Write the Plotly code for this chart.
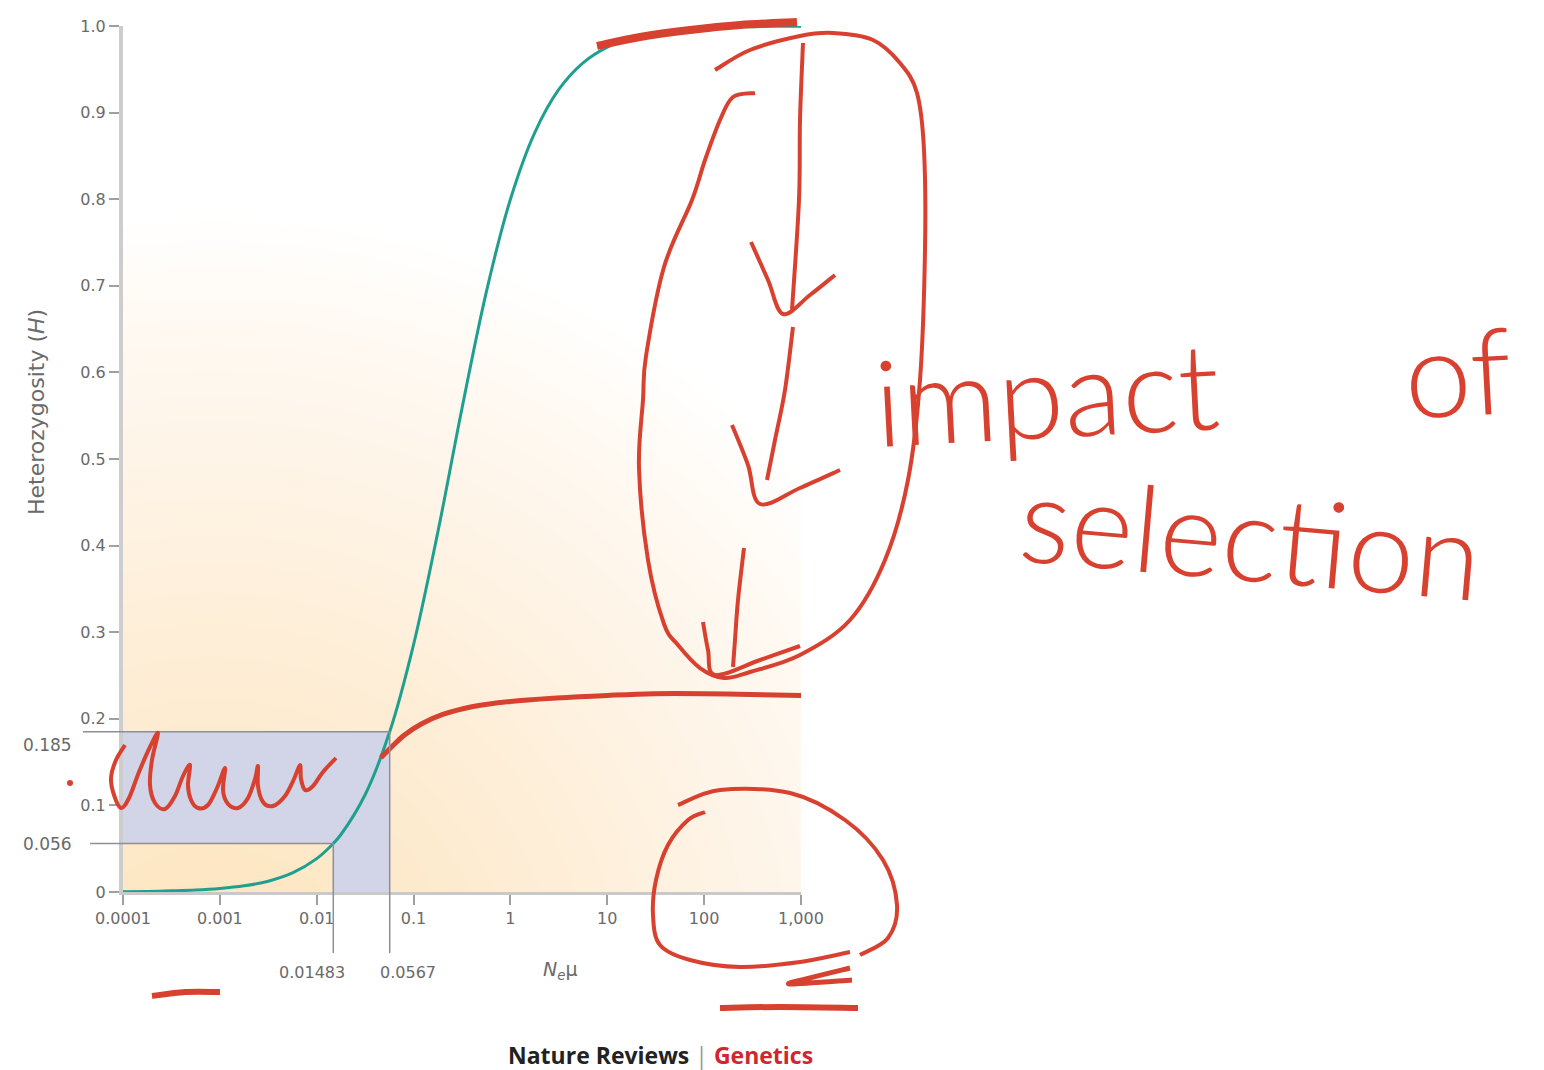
import math
import numpy as np
import plotly.graph_objects as go

# Expected heterozygosity under neutrality as a function of N_e*mu
nmu = [0.0001, 0.000178, 0.000316, 0.000562, 0.001, 0.00178, 0.00316, 0.00562,
       0.01, 0.01483, 0.0178, 0.0316, 0.0567, 0.1, 0.178, 0.316, 0.562, 1,
       1.78, 3.16, 5.62, 10, 17.8, 31.6, 56.2, 100, 178, 316, 562, 1000]
het = [0.0004, 0.0007, 0.0013, 0.0022, 0.004, 0.0071, 0.0125, 0.022,
       0.0385, 0.056, 0.0664, 0.1123, 0.185, 0.2857, 0.4156, 0.5584, 0.6922, 0.8,
       0.8767, 0.9267, 0.9574, 0.9756, 0.9861, 0.9922, 0.9956, 0.9975, 0.9986, 0.9992, 0.9996, 0.9998]

# Hand-drawn plateau: heterozygosity once selection acts
sel_nmu = [0.046, 0.06, 0.08, 0.12, 0.2, 0.4, 1, 3, 10, 30, 100, 300, 1000]
sel_het = [0.155, 0.168, 0.181, 0.194, 0.205, 0.214, 0.220, 0.224, 0.227, 0.229, 0.229, 0.228, 0.227]

# Observed heterozygosity window and matching N_e*mu values
h_marks = [0.056, 0.185]
h_mark_labels = ["0.056", "0.185"]
nmu_marks = [0.01483, 0.0567]
nmu_mark_labels = ["0.01483", "0.0567"]

x_tickvals = [0.0001, 0.001, 0.01, 0.1, 1, 10, 100, 1000]
x_ticktext = ["0.0001", "0.001", "0.01", "0.1", "1", "10", "100", "1,000"]
y_tickvals = [0, 0.1, 0.2, 0.3, 0.4, 0.5, 0.6, 0.7, 0.8, 0.9, 1.0]
y_ticktext = ["0", "0.1", "0.2", "0.3", "0.4", "0.5", "0.6", "0.7", "0.8", "0.9", "1.0"]

# Page geometry
W, H = 1544, 1070
L, R, T, B = 123, 743, 26, 178
PW, PH = W - L - R, H - T - B
XR = [-4, 3]
YR = [0, 1]

INK = "#d8412f"
TEAL = "#1f9f8f"
GUIDE = "#8e8e96"
TXT = "#6a6a6a"
FONT = "DejaVu Sans"
HAND = dict(size=120, color=INK, family="Lato", weight=300)


def px_x(px):
    return (px - L) / PW


def px_y(py):
    return (H - B - py) / PH


def xpaper(v):
    return (math.log10(v) - XR[0]) / (XR[1] - XR[0])


def ypaper(v):
    return (v - YR[0]) / (YR[1] - YR[0])


def smooth_path(pts):
    """Catmull-Rom stroke through page points, expressed in paper units."""
    P = [(px_x(x), px_y(y)) for x, y in pts]
    d = f"M{P[0][0]:.5f},{P[0][1]:.5f}"
    for i in range(len(P) - 1):
        p0 = P[i - 1] if i > 0 else P[i]
        p1, p2 = P[i], P[i + 1]
        p3 = P[i + 2] if i + 2 < len(P) else P[i + 1]
        c1 = (p1[0] + (p2[0] - p0[0]) / 6, p1[1] + (p2[1] - p0[1]) / 6)
        c2 = (p2[0] - (p3[0] - p1[0]) / 6, p2[1] - (p3[1] - p1[1]) / 6)
        d += (f" C{c1[0]:.5f},{c1[1]:.5f} {c2[0]:.5f},{c2[1]:.5f} "
              f"{p2[0]:.5f},{p2[1]:.5f}")
    return d


def label(x, y, text, size=17, **kw):
    base = dict(x=x, y=y, xref="paper", yref="paper", text=text, showarrow=False,
                xanchor="center", yanchor="middle",
                font=dict(size=size, color=TXT, family=FONT))
    base.update(kw)
    return base


fig = go.Figure()

# Soft warm background wash radiating from the lower left of the panel
gx = np.linspace(XR[0], XR[1], 71)
gy = np.linspace(YR[0], YR[1], 51)
GX, GY = np.meshgrid((gx - XR[0]) / (XR[1] - XR[0]) * PW, gy * PH)
wash = np.clip(np.hypot(GX - 90, GY + 110) / 790, 0, 1)
fig.add_trace(go.Heatmap(
    x=10 ** gx, y=gy, z=wash, zmin=0, zmax=1, zsmooth="best", showscale=False,
    hoverinfo="skip",
    colorscale=[[0, "#fde3b9"], [0.25, "#fde9ca"], [0.5, "#feefda"],
                [0.72, "#fef5e9"], [0.88, "#fffaf4"], [1, "#ffffff"]],
))

# Shaded window between the two heterozygosity / N_e*mu readings
fig.add_trace(go.Scatter(
    x=[x_tickvals[0], nmu_marks[0], nmu_marks[0], nmu_marks[1], nmu_marks[1], x_tickvals[0]],
    y=[h_marks[0], h_marks[0], YR[0], YR[0], h_marks[1], h_marks[1]],
    fill="toself", fillcolor="#d2d5e8", line=dict(width=0), mode="lines",
    hoverinfo="skip",
))

# Neutral curve
fig.add_trace(go.Scatter(
    x=nmu, y=het, mode="lines", line=dict(color=TEAL, width=3, shape="spline"),
    hoverinfo="skip",
))

# Selection plateau drawn in ink
fig.add_trace(go.Scatter(
    x=sel_nmu, y=sel_het, mode="lines", line=dict(color=INK, width=5, shape="spline"),
    hoverinfo="skip",
))

shapes = []
# Guide lines from the axes to the curve
h_left = [90, 83]
for hv, nv, lx in zip(h_marks, nmu_marks, h_left):
    shapes.append(dict(type="line", xref="paper", yref="paper",
                       x0=px_x(lx), x1=xpaper(nv), y0=ypaper(hv), y1=ypaper(hv),
                       line=dict(color=GUIDE, width=1.5), layer="above"))
    shapes.append(dict(type="line", xref="paper", yref="paper",
                       x0=xpaper(nv), x1=xpaper(nv), y0=px_y(953), y1=ypaper(hv),
                       line=dict(color=GUIDE, width=1.5), layer="above"))

# Hand-drawn ink strokes (page pixel points)
strokes = [
    ([(597, 46), (640, 37), (690, 30), (740, 25), (797, 22)], 8),
    ([(715, 70), (750, 50), (800, 36), (833, 33), (873, 40), (900, 63), (917, 93),
      (924, 150), (925, 250), (920, 380), (908, 480), (885, 560), (850, 620),
      (800, 655), (750, 672), (724, 678), (700, 668), (678, 645), (664, 624),
      (648, 560), (639, 468), (643, 400), (646, 356), (664, 267), (692, 200),
      (705, 160), (720, 120), (733, 97), (755, 93)], 4),
    ([(803, 43), (800, 120), (799, 200), (792, 310)], 4),
    ([(751, 242), (768, 280), (783, 314), (810, 295), (835, 275)], 4),
    ([(793, 327), (785, 390), (775, 440), (767, 480)], 4),
    ([(732, 425), (748, 465), (760, 504), (800, 488), (840, 470)], 4),
    ([(744, 548), (738, 600), (735, 640), (733, 667)], 4),
    ([(703, 622), (708, 650), (715, 675), (760, 660), (800, 646)], 4),
    ([(125, 745), (116, 760), (111, 778), (114, 795), (121, 808), (129, 798),
      (139, 772), (150, 747), (158, 733), (152, 760), (150, 785), (155, 803),
      (165, 809), (175, 796), (183, 776), (190, 765), (188, 785), (191, 800),
      (198, 808), (208, 805), (217, 788), (225, 768), (223, 790), (228, 804),
      (238, 808), (248, 798), (255, 779), (258, 766), (258, 786), (263, 802),
      (273, 806), (285, 796), (294, 779), (300, 765), (301, 779), (305, 790),
      (313, 786), (323, 772), (336, 758)], 4),
    ([(705, 812), (688, 820), (668, 845), (656, 880), (653, 915), (660, 945),
      (690, 960), (740, 967), (800, 962), (850, 952)], 4),
    ([(678, 805), (720, 790), (790, 793), (845, 820), (883, 860), (897, 905),
      (888, 938), (860, 955)], 4),
    ([(850, 968), (810, 978), (790, 984), (852, 980)], 5),
    ([(720, 1008), (780, 1007), (858, 1008)], 6),
    ([(152, 996), (185, 992), (220, 992)], 6),
]
for pts, w in strokes:
    shapes.append(dict(type="path", xref="paper", yref="paper", path=smooth_path(pts),
                       line=dict(color=INK, width=w), layer="above"))
shapes.append(dict(type="circle", xref="paper", yref="paper",
                   x0=px_x(67), x1=px_x(73), y0=px_y(786), y1=px_y(780),
                   fillcolor=INK, line=dict(width=0), layer="above"))

annotations = []
for hv, lab, ys in zip(h_marks, h_mark_labels, [0, -13]):
    annotations.append(label(px_x(47), ypaper(hv), lab, yshift=ys))
for nv, lab, xs in zip(nmu_marks, nmu_mark_labels, [-21, 18]):
    annotations.append(label(xpaper(nv), px_y(972), lab, size=16, xshift=xs))
annotations += [
    label(px_x(560), px_y(970), "<i>N</i><sub><i>e</i></sub>μ", size=19),
    label(px_x(36), px_y(412), "Heterozygosity (<i>H</i>)", size=22, textangle=-90),
    label(px_x(660), px_y(1055),
          "<b>Nature Reviews</b> <span style='color:#9a9a9a'>|</span> "
          "<b><span style='color:#d4242f'>Genetics</span></b>",
          font=dict(size=23, color="#222222", family="Open Sans")),
    label(px_x(868), px_y(392), "impact", xanchor="left", textangle=-3, font=HAND),
    label(px_x(1398), px_y(370), "of", xanchor="left", textangle=-3, font=HAND),
    label(px_x(1012), px_y(535), "selection", xanchor="left", textangle=5, font=HAND),
]

fig.update_layout(
    width=W, height=H,
    margin=dict(l=L, r=R, t=T, b=B, pad=0, autoexpand=False),
    paper_bgcolor="white", plot_bgcolor="white", showlegend=False,
    font=dict(family=FONT, color=TXT),
    shapes=shapes, annotations=annotations,
    xaxis=dict(type="log", range=XR, tickvals=x_tickvals, ticktext=x_ticktext,
               ticks="outside", ticklen=10, tickwidth=1.5, tickcolor="#a0a0a0",
               showline=True, linecolor="#c9c9c9", linewidth=3, showgrid=False,
               zeroline=False, tickfont=dict(size=16, color=TXT, family=FONT)),
    yaxis=dict(range=YR, tickvals=y_tickvals, ticktext=y_ticktext,
               ticks="outside", ticklen=10, tickwidth=1.5, tickcolor="#a0a0a0",
               showline=True, linecolor="#cdcdcd", linewidth=4, showgrid=False,
               zeroline=False, tickfont=dict(size=16, color=TXT, family=FONT)),
)

fig.write_html("out.html")
